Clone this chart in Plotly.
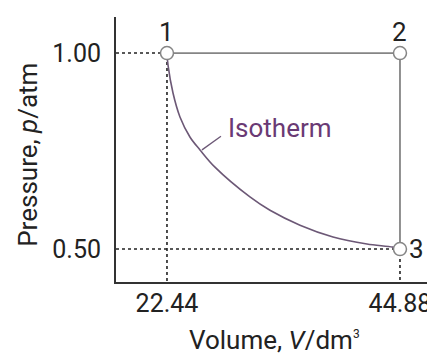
import plotly.graph_objects as go

# Data
state_labels = ["1", "2", "3"]
state_V = [22.44, 44.88, 44.88]
state_p = [1.00, 1.00, 0.50]

isotherm_V = [22.44, 22.54, 23.02, 23.69, 24.65, 25.62, 27.06, 30.43, 32.36, 35.25, 38.43, 41.70, 44.20, 44.88]
isotherm_p = [1.00, 0.969, 0.898, 0.837, 0.786, 0.753, 0.709, 0.633, 0.599, 0.561, 0.531, 0.513, 0.505, 0.50]

leader_V = [25.81, 27.64]
leader_p = [0.753, 0.788]

x_tickvals = [22.44, 44.88]
x_ticktext = ["22.44", "44.88"]
y_tickvals = [0.50, 1.00]
y_ticktext = ["0.50", "1.00"]

x_range = [17.53, 48.06]
y_range = [0.416, 1.092]

FONT = "Roboto, Liberation Sans, Arial, sans-serif"
FS = 26
GRAY = "#858585"
ISO = "#6c5876"
PURPLE = "#6a3a74"

fig = go.Figure()

# dotted guide lines
for V, p in [(state_V[0], state_p[0]), (state_V[2], state_p[2])]:
    fig.add_trace(go.Scatter(x=[x_range[0], V, V], y=[p, p, y_range[0]], mode="lines",
                             line=dict(color="#222222", width=1.6, dash="dot"),
                             hoverinfo="skip", showlegend=False))

# cycle path 1 -> 2 -> 3
fig.add_trace(go.Scatter(x=state_V, y=state_p, mode="lines",
                         line=dict(color=GRAY, width=1.8), showlegend=False))

# isotherm
fig.add_trace(go.Scatter(x=isotherm_V, y=isotherm_p, mode="lines", line_shape="spline",
                         line=dict(color=ISO, width=1.6), showlegend=False))

# leader line for label
fig.add_trace(go.Scatter(x=leader_V, y=leader_p, mode="lines",
                         line=dict(color=ISO, width=1.3), hoverinfo="skip", showlegend=False))

# state points
fig.add_trace(go.Scatter(x=state_V, y=state_p, mode="markers",
                         marker=dict(size=13, color="white", line=dict(color=GRAY, width=1.5)),
                         showlegend=False))

# point labels
fig.add_annotation(x=state_V[0], y=state_p[0], text=state_labels[0], showarrow=False,
                   yanchor="bottom", yshift=4, font=dict(size=FS, color="#222222", family=FONT))
fig.add_annotation(x=state_V[1], y=state_p[1], text=state_labels[1], showarrow=False,
                   yanchor="bottom", yshift=4, font=dict(size=FS, color="#222222", family=FONT))
fig.add_annotation(x=state_V[2], y=state_p[2], text=state_labels[2], showarrow=False,
                   xanchor="left", xshift=7, font=dict(size=FS, color="#222222", family=FONT))

# isotherm label
fig.add_annotation(x=28.1, y=0.809, text="Isotherm", showarrow=False, xanchor="left",
                   font=dict(size=FS, color=PURPLE, family=FONT))

# axis titles
fig.add_annotation(xref="paper", yref="paper", x=0.5, y=0, yshift=-58, yanchor="middle",
                   text="Volume, <i>V</i>/dm<sup><span style='font-size:12px'>3</span></sup>",
                   showarrow=False, font=dict(size=FS, color="#222222", family=FONT))
fig.add_annotation(xref="paper", yref="paper", x=0, xshift=-88, y=0.48, textangle=-90,
                   xanchor="center", yanchor="middle",
                   text="Pressure, <i>p</i>/atm", showarrow=False,
                   font=dict(size=FS, color="#222222", family=FONT))

fig.update_layout(
    width=427, height=354,
    margin=dict(l=108, r=2, t=9, b=80),
    plot_bgcolor="white", paper_bgcolor="white",
    font=dict(family=FONT, size=FS, color="#222222"),
    xaxis=dict(range=x_range, tickvals=x_tickvals, ticktext=x_ticktext, showgrid=False,
               zeroline=False, showline=True, linecolor="#333333", linewidth=2,
               ticks="", ticklabelstandoff=-2, tickfont=dict(size=25)),
    yaxis=dict(range=y_range, tickvals=y_tickvals, ticktext=y_ticktext, showgrid=False,
               zeroline=False, showline=True, linecolor="#333333", linewidth=2,
               ticks="", ticklabelstandoff=8, tickfont=dict(size=25)),
)

fig.write_html("out.html")
